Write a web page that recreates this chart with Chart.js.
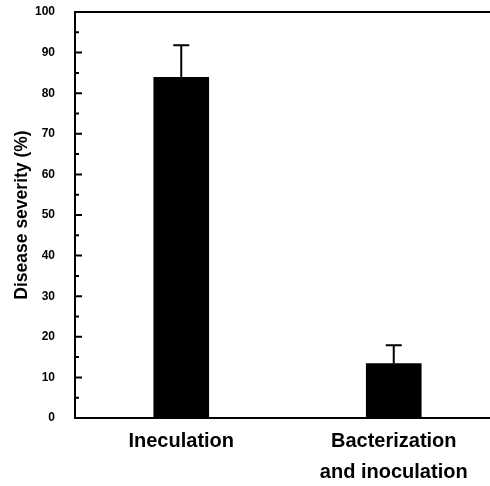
<!DOCTYPE html>
<html>
<head>
<meta charset="utf-8">
<script src="https://cdn.jsdelivr.net/npm/chart.js@4/dist/chart.umd.min.js"></script>
<style>
  html, body { margin: 0; padding: 0; background: #fff; overflow: hidden; }
  #wrap { width: 500px; height: 486px; }
</style>
</head>
<body>
<div id="wrap"><canvas id="chart" width="500" height="486"></canvas></div>
<script>
const categories = [['Ineculation'], ['Bacterization', 'and inoculation']];
const severity = [83.9, 13.4];
const severityErr = [7.9, 4.5];
const yTicks = [0, 10, 20, 30, 40, 50, 60, 70, 80, 90, 100];

// error bars drawn above each bar
const errorBars = {
  id: 'errorBars',
  afterDatasetsDraw(chart) {
    const ctx = chart.ctx;
    const y = chart.scales.y;
    const meta = chart.getDatasetMeta(0);
    ctx.save();
    ctx.strokeStyle = '#000';
    ctx.lineWidth = 2;
    meta.data.forEach((bar, i) => {
      const top = y.getPixelForValue(severity[i] + severityErr[i]);
      ctx.beginPath();
      ctx.moveTo(bar.x, bar.y);
      ctx.lineTo(bar.x, top);
      ctx.moveTo(bar.x - 8, top);
      ctx.lineTo(bar.x + 8, top);
      ctx.stroke();
    });
    ctx.restore();
  }
};

// inward tick marks + top frame line
const frame = {
  id: 'frame',
  afterDraw(chart) {
    const ctx = chart.ctx;
    const area = chart.chartArea;
    const y = chart.scales.y;
    ctx.save();
    ctx.strokeStyle = '#000';
    ctx.lineWidth = 2;
    ctx.beginPath();
    ctx.moveTo(area.left, area.top);
    ctx.lineTo(area.right, area.top);
    for (let v = 0; v <= 100; v += 5) {
      const py = y.getPixelForValue(v);
      const len = v % 10 === 0 ? 7 : 4;
      ctx.moveTo(area.left, py);
      ctx.lineTo(area.left + len, py);
    }
    ctx.stroke();
    ctx.restore();
  }
};

new Chart(document.getElementById('chart'), {
  type: 'bar',
  data: {
    labels: categories,
    datasets: [{
      data: severity,
      backgroundColor: '#000',
      borderWidth: 0,
      barThickness: 55
    }]
  },
  options: {
    responsive: false,
    animation: false,
    layout: { padding: { top: 12, right: 0, left: 0, bottom: 0 } },
    plugins: { legend: { display: false }, tooltip: { enabled: false } },
    scales: {
      x: {
        grid: { display: false },
        border: { display: true, color: '#000', width: 2 },
        ticks: {
          color: '#000',
          padding: 0,
          font: { family: "'Liberation Sans', Arial, sans-serif", size: 20, weight: 'bold', lineHeight: 1.55 }
        },
        afterFit(scale) { scale.height = 68; }
      },
      y: {
        min: 0,
        max: 100,
        afterBuildTicks(scale) { scale.ticks = yTicks.map(v => ({ value: v })); },
        grid: { display: false },
        border: { display: true, color: '#000', width: 2 },
        ticks: {
          color: '#000',
          padding: 12,
          font: { family: "'Liberation Sans', Arial, sans-serif", size: 12, weight: 'bold' }
        },
        title: {
          display: true,
          text: 'Disease severity (%)',
          color: '#000',
          padding: { top: 12, bottom: 0 },
          font: { family: "'Liberation Sans', Arial, sans-serif", size: 17.5, weight: 'bold' }
        },
        afterFit(scale) {
          scale.width = 75;
          scale.paddingTop = 0;
          scale.paddingBottom = 0;
        }
      }
    }
  },
  plugins: [errorBars, frame]
});
</script>
</body>
</html>
